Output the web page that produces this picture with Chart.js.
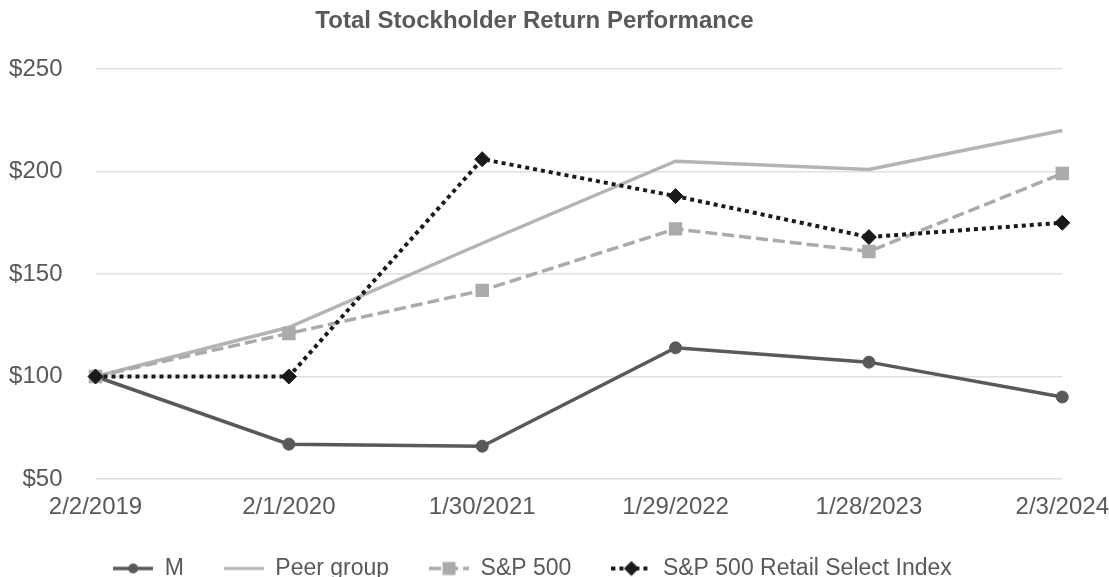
<!DOCTYPE html>
<html>
<head>
<meta charset="utf-8">
<script src="https://cdn.jsdelivr.net/npm/chart.js@4/dist/chart.umd.min.js"></script>
<style>
html,body{margin:0;padding:0;background:#fff;}
#wrap{width:1109px;height:577px;}
</style>
</head>
<body>
<div id="wrap"><canvas id="tsr"></canvas></div>
<script>
const dates=['2/2/2019','2/1/2020','1/30/2021','1/29/2022','1/28/2023','2/3/2024'];
const macys=[100,67,66,114,107,90];
const peer=[100,124,165,205,201,220];
const sp500=[100,121,142,172,161,199];
const retail=[100,100,206,188,168,175];

const FONT="'Liberation Sans', Arial, sans-serif";
const TXT='#595959';
const C_M='#595959', C_PEER='#b4b4b4', C_SP='#ababab', C_RET='#1a1a1a';

// little legend glyphs: line + marker
function glyph(color,dash,lw,marker){
 const c=document.createElement('canvas'); c.width=40; c.height=20;
 const x=c.getContext('2d');
 x.strokeStyle=color; x.lineWidth=lw; x.setLineDash(dash);
 x.beginPath(); x.moveTo(0,10); x.lineTo(40,10); x.stroke();
 x.setLineDash([]); x.fillStyle=color;
 if(marker=='circle'){x.beginPath(); x.arc(20,10,5,0,Math.PI*2); x.fill();}
 if(marker=='rect'){x.fillRect(13.5,3.5,13,13);}
 if(marker=='diamond'){x.beginPath(); x.moveTo(20,2.5); x.lineTo(27.5,10); x.lineTo(20,17.5); x.lineTo(12.5,10); x.closePath(); x.fill();}
 return c;
}
const glyphs=[
 glyph(C_M,[],3.5,'circle'),
 glyph(C_PEER,[],3,null),
 glyph(C_SP,[12,5],3.5,'rect'),
 glyph(C_RET,[4,4],4,'diamond')
];

// title and legend sit a bit left of centre in the original
const nudge={id:'nudge',afterLayout(chart){
 const l=chart.legend; l.top-=7; l.bottom=chart.height; l.left-=44;
 chart.titleBlock.left-=40;
}};

new Chart(tsr,{type:'line',
 data:{labels:dates,datasets:[
  {label:'M',data:macys,borderColor:C_M,backgroundColor:C_M,borderWidth:3.5,
   pointStyle:'circle',pointRadius:6,pointBorderWidth:1,order:3},
  {label:'Peer group',data:peer,borderColor:C_PEER,backgroundColor:C_PEER,borderWidth:3.5,
   pointRadius:0,order:2},
  {label:'S&P 500',data:sp500,borderColor:C_SP,backgroundColor:C_SP,borderWidth:3.5,
   borderDash:[12,5],pointStyle:'rect',pointRadius:9.5,pointBorderWidth:0,order:1},
  {label:'S&P 500 Retail Select Index',data:retail,borderColor:C_RET,backgroundColor:C_RET,borderWidth:4,
   borderDash:[4,4],pointStyle:'rectRot',pointRadius:7.5,pointBorderWidth:1,order:0}
 ]},
 options:{responsive:true,maintainAspectRatio:false,animation:false,
  layout:{padding:0},
  scales:{
   x:{offset:false,grid:{display:false,drawTicks:true,tickLength:14},border:{display:false},
    ticks:{color:TXT,font:{family:FONT,size:24},padding:0,maxRotation:0,autoSkip:false},
    afterFit:s=>{s.height=45;}},
   y:{min:50,max:250,grid:{color:'#e0e0e0',lineWidth:1.5,drawTicks:false},border:{display:false},
    ticks:{stepSize:50,color:TXT,font:{family:FONT,size:24},padding:33,callback:v=>'$'+v},
    afterFit:s=>{s.width=95.5;}}
  },
  plugins:{
   title:{display:true,text:'Total Stockholder Return Performance',color:TXT,
    font:{family:FONT,size:24,weight:'bold'},padding:{top:6.6,bottom:33.6}},
   legend:{position:'bottom',maxHeight:53,labels:{color:TXT,font:{family:FONT,size:23},padding:40,
    usePointStyle:true,pointStyleWidth:40,
    sort:(a,b)=>a.datasetIndex-b.datasetIndex,
    generateLabels:ch=>Chart.defaults.plugins.legend.labels.generateLabels(ch)
      .map(it=>Object.assign(it,{pointStyle:glyphs[it.datasetIndex]}))}},
   tooltip:{enabled:false}
  }
 },
 plugins:[nudge]
});
</script>
</body>
</html>
